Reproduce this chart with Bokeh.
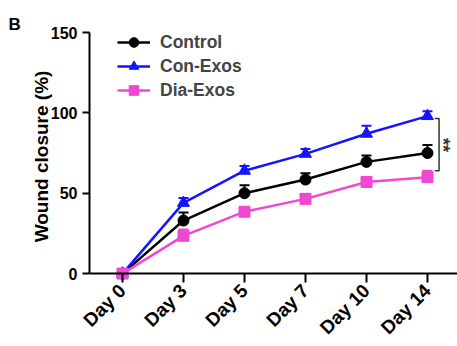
import math
from bokeh.plotting import figure
from bokeh.models import ColumnDataSource, Whisker, TeeHead, FixedTicker, Range1d, Span
from bokeh.embed import file_html
from bokeh.resources import INLINE
from bokeh.core.properties import value

days = ["Day 0", "Day 3", "Day 5", "Day 7", "Day 10", "Day 14"]
control = [0, 33, 50, 58.5, 69.5, 75]
control_err = [0, 5, 5, 4, 4, 5]
con_exos = [0, 44, 64, 74.5, 87, 98]
con_exos_err = [0, 3, 3, 3, 5, 3]
dia_exos = [0, 23.5, 38.5, 46.5, 57, 60]
dia_exos_err = [0, 4, 2, 3, 3, 4]

FONT = "Liberation Sans"
xs = list(range(len(days)))

p = figure(frame_width=368, frame_height=248, min_border_left=89, min_border_top=32,
           min_border_bottom=66, min_border_right=0,
           x_range=Range1d(-0.541, 5.492), y_range=Range1d(-4.3, 150),
           output_backend="svg", toolbar_location=None)
p.outline_line_color = None
p.grid.visible = False
p.background_fill_color = "white"

p.title.text = "B"
p.title.align = "left"
p.title.offset = -81
p.title.standoff = -2
p.title.text_font = FONT
p.title.text_font_style = "bold"
p.title.text_font_size = "17px"
p.title.text_color = "black"

series = [
    ("Control", control, control_err, "black", "circle", 11),
    ("Con-Exos", con_exos, con_exos_err, "#1414ff", "triangle", 12),
    ("Dia-Exos", dia_exos, dia_exos_err, "#f048d2", "square", 11),
]

# x axis line at zero
p.add_layout(Span(location=0, dimension="width", line_color="black", line_width=2))

for name, vals, errs, color, marker, size in series:
    src = ColumnDataSource(dict(x=xs, y=vals, upper=[v + e for v, e in zip(vals, errs)]))
    w = Whisker(base="x", lower="y", upper="upper", source=src, line_color=color, line_width=2,
                upper_head=TeeHead(size=10, line_color=color, line_width=2), lower_head=None)
    p.add_layout(w)

for name, vals, errs, color, marker, size in series:
    src = ColumnDataSource(dict(x=xs, y=vals))
    p.line("x", "y", source=src, line_color=color, line_width=2.5, legend_label=name)
    p.scatter("x", "y", source=src, marker=marker, size=size, fill_color=color,
              line_color=color, legend_label=name)

# significance bracket
p.line([5.12, 5.19, 5.19, 5.12], [96.5, 96.5, 64, 64], line_color="#333333", line_width=1.5)
p.text([5.26], [80], text=["**"], angle=-math.pi / 2, text_align="center",
       text_baseline="middle", text_font=value(FONT), text_font_style="bold",
       text_font_size="18px", text_color="#333333")

# axes
p.xaxis.ticker = FixedTicker(ticks=xs)
p.xaxis.major_label_overrides = {i: d for i, d in enumerate(days)}
p.xaxis.major_label_orientation = math.pi / 4
p.yaxis.ticker = FixedTicker(ticks=[0, 50, 100, 150])
p.yaxis.bounds = (0, 150)
p.yaxis.axis_label = "Wound closure (%)"
for ax in (p.xaxis, p.yaxis):
    ax.axis_line_width = 2
    ax.major_tick_line_width = 2
    ax.major_tick_out = 7
    ax.major_tick_in = 0
    ax.minor_tick_line_color = None
    ax.major_label_text_font = FONT
    ax.major_label_text_font_style = "bold"
    ax.major_label_text_font_size = "16px"
    ax.major_label_text_color = "black"
    ax.axis_label_text_font = FONT
    ax.axis_label_text_font_style = "bold"
    ax.axis_label_text_font_size = "19px"
    ax.axis_label_text_color = "black"
p.yaxis.axis_label_standoff = -4
p.xaxis.axis_line_color = None
p.xaxis.major_tick_in = 7
p.xaxis.major_tick_out = 2
p.xaxis.major_label_text_font_size = "19px"

lg = p.legend[0]
lg.location = (28, 178)
lg.padding = 0
lg.margin = 0
lg.spacing = 0
lg.label_height = 24
lg.glyph_height = 24
lg.glyph_width = 33
lg.label_standoff = 10
lg.border_line_color = None
lg.background_fill_alpha = 0
lg.label_text_font = FONT
lg.label_text_font_style = "bold"
lg.label_text_font_size = "17.5px"

open("out.html", "w").write(file_html(p, INLINE))
